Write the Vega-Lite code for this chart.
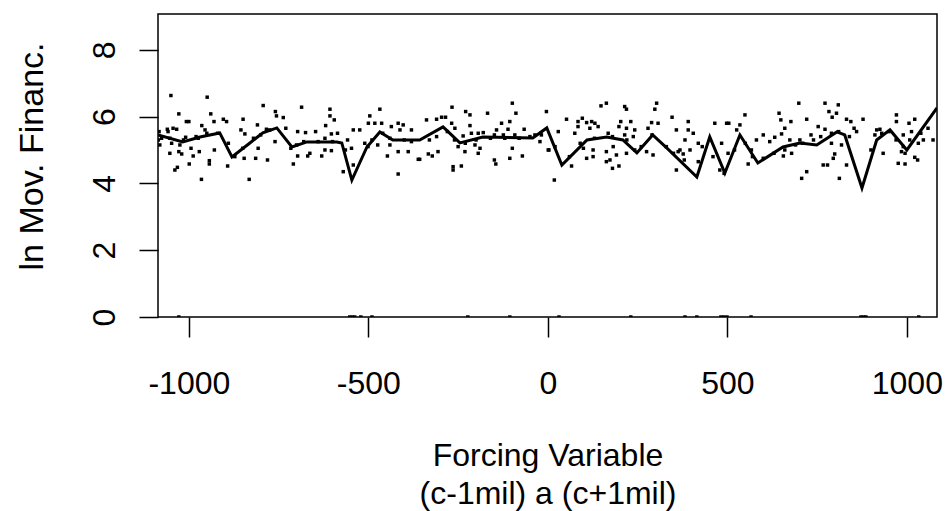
{
  "$schema": "https://vega.github.io/schema/vega-lite/v6.json",
  "width": 779,
  "height": 303,
  "autosize": {"type": "none"},
  "padding": {"left": 158, "top": 14, "right": 8, "bottom": 194},
  "background": "white",
  "config": {
    "view": {"stroke": "black", "strokeWidth": 1.5},
    "font": "Liberation Sans",
    "axis": {
      "labelFont": "Liberation Sans", "titleFont": "Liberation Sans",
      "labelColor": "black", "titleColor": "black", "tickColor": "black",
      "domain": false, "grid": false, "titleFontWeight": "normal",
      "labelFontSize": 32, "titleFontSize": 32, "tickWidth": 1.5,
      "labelFlush": false, "labelOverlap": false
    }
  },
  "datasets": {
    "pts": [
      {"x":-1050,"y":6.63},{"x":-949,"y":6.58},{"x":-793,"y":6.33},{"x":-1028,"y":6.08},{"x":-939,"y":6.08},{"x":-759,"y":6.15},{"x":-756,"y":6.02},{"x":-737,"y":5.97},{"x":-1007,"y":5.85},{"x":-1000,"y":5.85},{"x":-930,"y":5.85},{"x":-904,"y":5.92},{"x":-895,"y":5.85},{"x":-849,"y":5.92},{"x":-964,"y":5.73},{"x":-809,"y":5.75},{"x":-955,"y":5.6},{"x":-1058,"y":5.55},{"x":-1044,"y":5.65},{"x":-1034,"y":5.62},{"x":-784,"y":5.62},{"x":-855,"y":5.6},{"x":-844,"y":5.48},{"x":-1076,"y":5.35},{"x":-1053,"y":5.35},{"x":-1009,"y":5.38},{"x":-974,"y":5.35},{"x":-1081,"y":5.15},{"x":-1048,"y":5.2},{"x":-1025,"y":5.15},{"x":-994,"y":5.05},{"x":-971,"y":4.95},{"x":-929,"y":5.0},{"x":-807,"y":5.05},{"x":-760,"y":5.25},{"x":-1053,"y":4.9},{"x":-1028,"y":4.95},{"x":-1020,"y":4.88},{"x":-988,"y":4.82},{"x":-943,"y":4.68},{"x":-943,"y":4.58},{"x":-872,"y":4.8},{"x":-846,"y":4.75},{"x":-814,"y":4.75},{"x":-781,"y":4.7},{"x":-999,"y":4.58},{"x":-892,"y":4.52},{"x":-1032,"y":4.48},{"x":-1039,"y":4.4},{"x":-965,"y":4.12},{"x":-832,"y":4.12},
      {"x":-1085,"y":5.3},{"x":-1083,"y":5.55},{"x":-1060,"y":5.62},{"x":-1015,"y":5.3},{"x":-980,"y":5.4},{"x":-950,"y":5.5},{"x":-920,"y":5.5},{"x":-890,"y":5.2},{"x":-850,"y":5.05},{"x":-820,"y":5.35},{"x":-800,"y":5.45},{"x":-775,"y":5.6},
      {"x":-686,"y":6.28},{"x":-607,"y":6.22},{"x":-468,"y":6.22},{"x":-607,"y":6.02},{"x":-595,"y":5.9},{"x":-496,"y":6.02},{"x":-619,"y":5.73},{"x":-500,"y":5.8},{"x":-482,"y":5.8},{"x":-463,"y":5.8},{"x":-436,"y":5.7},{"x":-417,"y":5.8},{"x":-403,"y":5.75},{"x":-730,"y":5.65},{"x":-697,"y":5.55},{"x":-675,"y":5.52},{"x":-647,"y":5.55},{"x":-603,"y":5.48},{"x":-586,"y":5.5},{"x":-558,"y":5.3},{"x":-542,"y":5.6},{"x":-524,"y":5.6},{"x":-380,"y":5.6},{"x":-412,"y":5.6},{"x":-621,"y":5.35},{"x":-510,"y":5.2},{"x":-501,"y":5.1},{"x":-474,"y":5.15},{"x":-440,"y":5.15},{"x":-716,"y":5.05},{"x":-663,"y":4.9},{"x":-669,"y":4.82},{"x":-697,"y":4.82},{"x":-621,"y":5.0},{"x":-603,"y":4.98},{"x":-564,"y":5.0},{"x":-547,"y":5.05},{"x":-417,"y":4.95},{"x":-389,"y":4.95},{"x":-630,"y":4.82},{"x":-447,"y":4.82},{"x":-361,"y":4.72},{"x":-709,"y":4.58},{"x":-570,"y":4.35},{"x":-417,"y":4.28},{"x":-542,"y":4.55},
      {"x":-700,"y":5.15},{"x":-680,"y":5.25},{"x":-640,"y":5.25},{"x":-600,"y":5.25},{"x":-490,"y":5.3},{"x":-460,"y":5.5},{"x":-440,"y":5.35},{"x":-400,"y":5.3},{"x":-380,"y":5.25},
      {"x":-99,"y":6.4},{"x":-267,"y":6.28},{"x":-229,"y":6.15},{"x":-217,"y":6.05},{"x":-168,"y":6.1},{"x":-89,"y":6.1},{"x":-4,"y":6.15},{"x":-338,"y":5.9},{"x":-310,"y":5.92},{"x":-296,"y":5.98},{"x":-285,"y":5.98},{"x":-268,"y":5.8},{"x":-217,"y":5.73},{"x":-129,"y":5.8},{"x":-106,"y":5.85},{"x":-259,"y":5.65},{"x":-143,"y":5.6},{"x":-111,"y":5.62},{"x":-66,"y":5.62},{"x":-236,"y":5.42},{"x":-213,"y":5.5},{"x":-194,"y":5.5},{"x":-180,"y":5.52},{"x":-149,"y":5.45},{"x":-124,"y":5.45},{"x":-92,"y":5.45},{"x":-36,"y":5.45},{"x":-18,"y":5.45},{"x":-250,"y":5.1},{"x":-203,"y":5.15},{"x":-189,"y":5.05},{"x":-231,"y":4.95},{"x":-194,"y":4.9},{"x":-99,"y":5.05},{"x":-22,"y":5.25},{"x":1,"y":5.0},{"x":-357,"y":4.72},{"x":-333,"y":4.88},{"x":-322,"y":4.82},{"x":-306,"y":4.95},{"x":-149,"y":4.7},{"x":-145,"y":4.58},{"x":-106,"y":4.75},{"x":-71,"y":4.82},{"x":-264,"y":4.5},{"x":-264,"y":4.4},{"x":-241,"y":4.52},
      {"x":-330,"y":5.3},{"x":-310,"y":5.4},{"x":-280,"y":5.55},{"x":-260,"y":5.3},{"x":-230,"y":5.2},{"x":-200,"y":5.3},{"x":-160,"y":5.35},{"x":-120,"y":5.35},{"x":-80,"y":5.35},{"x":-50,"y":5.4},{"x":-20,"y":5.5},
      {"x":148,"y":6.32},{"x":163,"y":6.4},{"x":214,"y":6.3},{"x":219,"y":6.22},{"x":303,"y":6.4},{"x":298,"y":6.22},{"x":52,"y":5.92},{"x":84,"y":5.85},{"x":96,"y":5.95},{"x":108,"y":5.82},{"x":122,"y":5.85},{"x":131,"y":5.8},{"x":203,"y":5.85},{"x":231,"y":5.85},{"x":289,"y":5.82},{"x":307,"y":5.8},{"x":346,"y":5.98},{"x":84,"y":5.7},{"x":117,"y":5.65},{"x":140,"y":5.7},{"x":198,"y":5.7},{"x":219,"y":5.65},{"x":242,"y":5.6},{"x":279,"y":5.65},{"x":358,"y":5.6},{"x":29,"y":5.55},{"x":75,"y":5.5},{"x":168,"y":5.5},{"x":214,"y":5.45},{"x":238,"y":5.4},{"x":3,"y":5.0},{"x":99,"y":5.05},{"x":126,"y":5.0},{"x":163,"y":4.95},{"x":182,"y":5.1},{"x":191,"y":4.85},{"x":219,"y":4.9},{"x":242,"y":5.0},{"x":275,"y":4.95},{"x":293,"y":4.85},{"x":108,"y":4.75},{"x":126,"y":4.8},{"x":163,"y":4.65},{"x":173,"y":4.7},{"x":180,"y":4.45},{"x":198,"y":4.52},{"x":66,"y":4.52},{"x":18,"y":4.1},{"x":358,"y":4.4},{"x":363,"y":4.95},
      {"x":20,"y":5.1},{"x":60,"y":4.8},{"x":90,"y":5.2},{"x":130,"y":5.35},{"x":180,"y":5.4},{"x":220,"y":5.3},{"x":260,"y":5.1},{"x":290,"y":5.45},{"x":330,"y":5.1},{"x":350,"y":4.9},
      {"x":699,"y":6.4},{"x":549,"y":6.05},{"x":644,"y":6.1},{"x":391,"y":5.85},{"x":465,"y":5.8},{"x":498,"y":5.8},{"x":504,"y":5.8},{"x":535,"y":5.75},{"x":649,"y":5.9},{"x":677,"y":5.85},{"x":721,"y":5.92},{"x":391,"y":5.6},{"x":526,"y":5.6},{"x":660,"y":5.65},{"x":405,"y":5.5},{"x":600,"y":5.45},{"x":632,"y":5.38},{"x":651,"y":5.48},{"x":382,"y":5.3},{"x":419,"y":5.2},{"x":484,"y":5.2},{"x":581,"y":5.3},{"x":618,"y":5.25},{"x":674,"y":5.3},{"x":702,"y":5.3},{"x":368,"y":5.0},{"x":396,"y":5.0},{"x":377,"y":4.88},{"x":502,"y":4.9},{"x":567,"y":5.0},{"x":656,"y":4.82},{"x":679,"y":4.9},{"x":419,"y":4.65},{"x":479,"y":4.4},{"x":491,"y":4.3},{"x":558,"y":4.58},{"x":707,"y":4.15},{"x":721,"y":4.35},
      {"x":380,"y":4.7},{"x":430,"y":5.1},{"x":460,"y":4.8},{"x":520,"y":5.0},{"x":550,"y":5.2},{"x":570,"y":4.8},{"x":600,"y":4.75},{"x":630,"y":4.9},{"x":660,"y":5.0},{"x":690,"y":5.15},{"x":710,"y":5.2},
      {"x":772,"y":6.4},{"x":809,"y":6.35},{"x":783,"y":6.15},{"x":804,"y":6.1},{"x":792,"y":5.98},{"x":832,"y":5.92},{"x":844,"y":5.85},{"x":878,"y":5.92},{"x":971,"y":6.05},{"x":971,"y":5.85},{"x":1006,"y":5.8},{"x":1022,"y":5.92},{"x":753,"y":5.7},{"x":772,"y":5.62},{"x":853,"y":5.65},{"x":860,"y":5.55},{"x":916,"y":5.6},{"x":925,"y":5.62},{"x":1013,"y":5.55},{"x":1039,"y":5.5},{"x":1059,"y":5.65},{"x":733,"y":5.45},{"x":790,"y":5.2},{"x":818,"y":5.15},{"x":911,"y":5.45},{"x":990,"y":5.45},{"x":1008,"y":5.3},{"x":1032,"y":5.2},{"x":1046,"y":5.3},{"x":1073,"y":5.3},{"x":799,"y":4.88},{"x":795,"y":4.75},{"x":934,"y":4.9},{"x":985,"y":4.95},{"x":995,"y":4.9},{"x":767,"y":4.55},{"x":779,"y":4.55},{"x":832,"y":4.55},{"x":976,"y":4.6},{"x":995,"y":4.58},{"x":1022,"y":4.78},{"x":1030,"y":4.7},{"x":812,"y":4.15},
      {"x":740,"y":5.3},{"x":760,"y":5.4},{"x":790,"y":5.5},{"x":810,"y":5.55},{"x":840,"y":5.4},{"x":900,"y":5.0},{"x":930,"y":5.5},{"x":950,"y":5.55},{"x":970,"y":5.3},{"x":990,"y":5.1},
      {"x":-1028,"y":0},{"x":-552,"y":0},{"x":-545,"y":0},{"x":-538,"y":0},{"x":-521,"y":0},{"x":-490,"y":0},{"x":-223,"y":0},{"x":-106,"y":0},{"x":31,"y":0},{"x":231,"y":0},{"x":382,"y":0},{"x":415,"y":0},{"x":482,"y":0},{"x":490,"y":0},{"x":499,"y":0},{"x":566,"y":0},{"x":872,"y":0},{"x":879,"y":0},{"x":886,"y":0},{"x":1033,"y":0}
    ],
    "ln": [
      {"x":-1086,"y":5.45},{"x":-1017,"y":5.24},{"x":-969,"y":5.39},{"x":-914,"y":5.51},{"x":-880,"y":4.79},{"x":-830,"y":5.21},{"x":-794,"y":5.51},{"x":-755,"y":5.66},{"x":-713,"y":5.09},{"x":-671,"y":5.24},{"x":-588,"y":5.24},{"x":-574,"y":5.21},{"x":-546,"y":4.1},{"x":-504,"y":5.09},{"x":-468,"y":5.54},{"x":-432,"y":5.3},{"x":-357,"y":5.3},{"x":-292,"y":5.69},{"x":-245,"y":5.21},{"x":-181,"y":5.39},{"x":-42,"y":5.36},{"x":-3,"y":5.66},{"x":39,"y":4.55},{"x":109,"y":5.3},{"x":164,"y":5.39},{"x":209,"y":5.3},{"x":248,"y":4.91},{"x":292,"y":5.45},{"x":331,"y":5.06},{"x":415,"y":4.19},{"x":451,"y":5.39},{"x":493,"y":4.31},{"x":535,"y":5.45},{"x":585,"y":4.61},{"x":655,"y":5.09},{"x":702,"y":5.21},{"x":749,"y":5.15},{"x":805,"y":5.54},{"x":827,"y":5.45},{"x":875,"y":3.86},{"x":916,"y":5.3},{"x":953,"y":5.6},{"x":1000,"y":5.0},{"x":1084,"y":6.26}
    ]
  },
  "encoding": {
    "x": {
      "field": "x", "type": "quantitative",
      "scale": {"domain": [-1086, 1084], "nice": false, "zero": false},
      "axis": {
        "values": [-1000, -500, 0, 500, 1000],
        "labelExpr": "'' + datum.value",
        "tickSize": 20, "labelPadding": 31,
        "title": ["Forcing Variable", "(c-1mil) a (c+1mil)"],
        "titleY": 148, "titleBaseline": "alphabetic", "titleLineHeight": 38
      }
    },
    "y": {
      "field": "y", "type": "quantitative",
      "scale": {"domain": [0, 9.07], "nice": false, "zero": false},
      "axis": {
        "values": [0, 2, 4, 6, 8],
        "labelExpr": "'' + datum.value",
        "tickSize": 19, "labelAngle": 270, "labelAlign": "center",
        "labelBaseline": "alphabetic", "labelPadding": 25,
        "title": "ln Mov. Financ.", "titleAngle": 270, "titleBaseline": "alphabetic",
        "titleAlign": "center", "titleX": -116, "titleY": 142, "titleFontSize": 34
      }
    }
  },
  "layer": [
    {
      "data": {"name": "pts"},
      "mark": {"type": "point", "shape": "square", "filled": true, "size": 12, "color": "black", "opacity": 1, "clip": true}
    },
    {
      "data": {"name": "ln"},
      "mark": {"type": "line", "color": "black", "strokeWidth": 3, "clip": true}
    }
  ]
}
